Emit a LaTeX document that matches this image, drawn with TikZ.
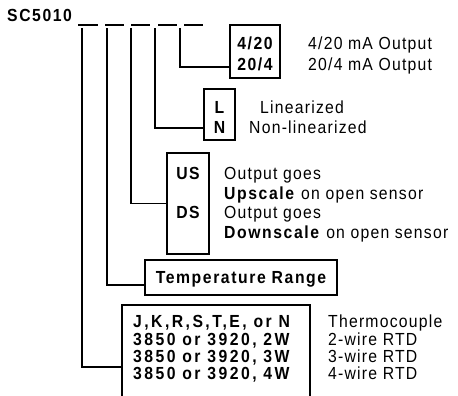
\documentclass[tikz,border=0pt]{standalone}
\usepackage{fontspec}
\setmainfont{Liberation Sans}[FakeStretch=0.9,LetterSpace=7,BoldFeatures={LetterSpace=9}]
\newfontfamily\rowfont{Liberation Sans Bold}[FakeStretch=0.9,LetterSpace=14]
\usetikzlibrary{calc}
\begin{document}
\begin{tikzpicture}[x=1pt,y=-1pt,
  wire/.style={line width=1.7pt,line cap=rect},
  box/.style={draw,line width=1.9pt,inner sep=0pt,outer sep=0pt},
  txt/.style={inner sep=0pt,text height=12.5pt,text depth=0pt,font=\fontsize{17.5}{20}\selectfont},
  btxt/.style={txt,font=\fontsize{17.5}{20}\selectfont\bfseries},
  lt/.style={txt,anchor=west},
  blt/.style={btxt,anchor=west},
  rowtxt/.style={txt,anchor=west,font=\fontsize{17.5}{20}\rowfont}]
\useasboundingbox (0,0) rectangle (458,396);
% code header
\node[blt] (code) at (7,15) {SC5010};
\foreach \a/\b [count=\i] in {78/98,105/124,131/150,158/177,184/203}
  \draw[line width=1.5pt] (\a,25) -- (\b,25);
\coordinate (d1) at (82,29);
\coordinate (d2) at (107,29);
\coordinate (d3) at (131,29);
\coordinate (d4) at (155,29);
\coordinate (d5) at (180,29);
% boxes
\node[box,minimum width=50pt,minimum height=53pt] (b5) at (255,51.5) {};
\node[box,minimum width=31pt,minimum height=51pt] (b4) at (219.5,114.5) {};
\node[box,minimum width=42pt,minimum height=101pt] (b3) at (188,203.5) {};
\node[box,minimum width=192pt,minimum height=35pt] (b2) at (241,277.5) {};
\coordinate (b1) at (122,305);
\coordinate (b1r) at (310,305);
\draw[line width=1.9pt] (122,400) -- (b1) -- (b1r) -- (310,400);
% connectors
\draw[wire] (d5) |- ($(b5.south west)+(0,-11)$);
\draw[wire] (d4) |- ($(b4.south west)+(0,-12)$);
\draw[wire] (d3) |- (b3.west);
\draw[wire] (d2) |- ($(b2.south west)+(0,-10)$);
\draw[wire] (d1) |- ($(b1)+(0,62)$);
% box texts
\node[btxt] (t420) at (255,43) {4/20};
\node[btxt] (t204) at (255,64) {20/4};
\node[lt] (o420) at (308,43) {4/20 mA Output};
\node[lt] (o204) at (308,64) {20/4 mA Output};
\node[btxt] (tL) at (219.5,107) {L};
\node[btxt] (tN) at (219.5,127) {N};
\node[lt] (oL) at (260,107) {Linearized};
\node[lt] (oN) at (249,127) {Non-linearized};
\node[btxt] (tUS) at (188,173) {US};
\node[btxt] (tDS) at (188,212) {DS};
\node[lt] (oU1) at (224,173) {Output goes};
\node[lt] (oU2) at (224,193) {\textbf{Upscale} on open sensor};
\node[lt] (oD1) at (224,212) {Output goes};
\node[lt] (oD2) at (224,232) {\textbf{Downscale} on open sensor};
\node[btxt] (tTR) at (b2) {Temperature Range};
\node[rowtxt] (r1) at (133,321) {J,K,R,S,T,E, or N};
\node[rowtxt] (r2) at (133,339) {3850 or 3920, 2W};
\node[rowtxt] (r3) at (133,356) {3850 or 3920, 3W};
\node[rowtxt] (r4) at (133,373) {3850 or 3920, 4W};
\node[lt] (s1) at (328,321) {Thermocouple};
\node[lt] (s2) at (328,339) {2-wire RTD};
\node[lt] (s3) at (328,356) {3-wire RTD};
\node[lt] (s4) at (328,373) {4-wire RTD};
\end{tikzpicture}
\end{document}
